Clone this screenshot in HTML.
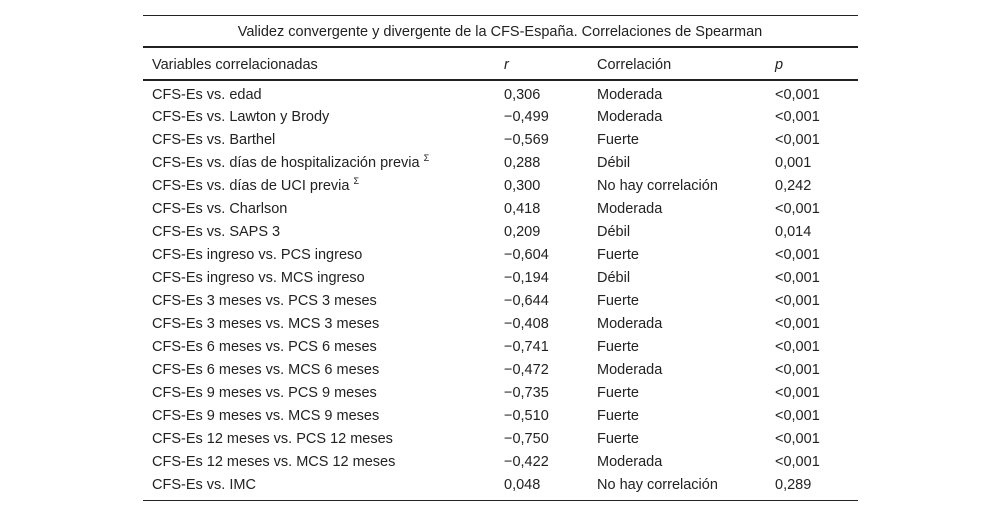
<!DOCTYPE html>
<html><head><meta charset="utf-8"><style>
body{margin:0;width:1000px;height:517px;background:#fff;font-family:"Liberation Sans",sans-serif;color:#222;font-size:14.5px;position:relative;overflow:hidden}
.l{position:absolute;left:143px;width:715px;background:#222}
.t{position:absolute;white-space:nowrap;line-height:18px;height:18px}
sup{font-size:9px;vertical-align:baseline;position:relative;top:-6px;line-height:0}
</style></head><body>
<div class="l" style="top:15px;height:1px"></div>
<div class="t" style="left:0;width:1000px;text-align:center;top:23px">Validez convergente y divergente de la CFS-España. Correlaciones de Spearman</div>
<div class="l" style="top:46px;height:2px"></div>
<div class="t" style="left:152px;top:56px">Variables correlacionadas</div>
<div class="t" style="left:504px;top:56px;font-style:italic">r</div>
<div class="t" style="left:597px;top:56px">Correlación</div>
<div class="t" style="left:775px;top:56px;font-style:italic">p</div>
<div class="l" style="top:79px;height:2px"></div>
<div id="rows"></div>
<div class="l" style="top:500px;height:1px"></div>
<script>
const vars=["CFS-Es vs. edad","CFS-Es vs. Lawton y Brody","CFS-Es vs. Barthel","CFS-Es vs. días de hospitalización previa <sup>Σ</sup>","CFS-Es vs. días de UCI previa <sup>Σ</sup>","CFS-Es vs. Charlson","CFS-Es vs. SAPS 3","CFS-Es ingreso vs. PCS ingreso","CFS-Es ingreso vs. MCS ingreso","CFS-Es 3 meses vs. PCS 3 meses","CFS-Es 3 meses vs. MCS 3 meses","CFS-Es 6 meses vs. PCS 6 meses","CFS-Es 6 meses vs. MCS 6 meses","CFS-Es 9 meses vs. PCS 9 meses","CFS-Es 9 meses vs. MCS 9 meses","CFS-Es 12 meses vs. PCS 12 meses","CFS-Es 12 meses vs. MCS 12 meses","CFS-Es vs. IMC"];
const rv=["0,306","−0,499","−0,569","0,288","0,300","0,418","0,209","−0,604","−0,194","−0,644","−0,408","−0,741","−0,472","−0,735","−0,510","−0,750","−0,422","0,048"];
const corr=["Moderada","Moderada","Fuerte","Débil","No hay correlación","Moderada","Débil","Fuerte","Débil","Fuerte","Moderada","Fuerte","Moderada","Fuerte","Fuerte","Fuerte","Moderada","No hay correlación"];
const pv=["<0,001","<0,001","<0,001","0,001","0,242","<0,001","0,014","<0,001","<0,001","<0,001","<0,001","<0,001","<0,001","<0,001","<0,001","<0,001","<0,001","0,289"];
const c=document.getElementById('rows');
vars.forEach((v,i)=>{
 const top=85.5+i*22.95;
 [[152,v,'variable'],[504,rv[i],'r-value'],[597,corr[i],'correlation'],[775,pv[i],'p-value']].forEach(([x,txt,n])=>{
  const d=document.createElement('div');d.className='t';
  d.style.left=x+'px';d.style.top=top+'px';
  if(n==='variable')d.innerHTML=txt;else d.textContent=txt;
  
  
  c.appendChild(d);
 });
});
</script>
</body></html>
